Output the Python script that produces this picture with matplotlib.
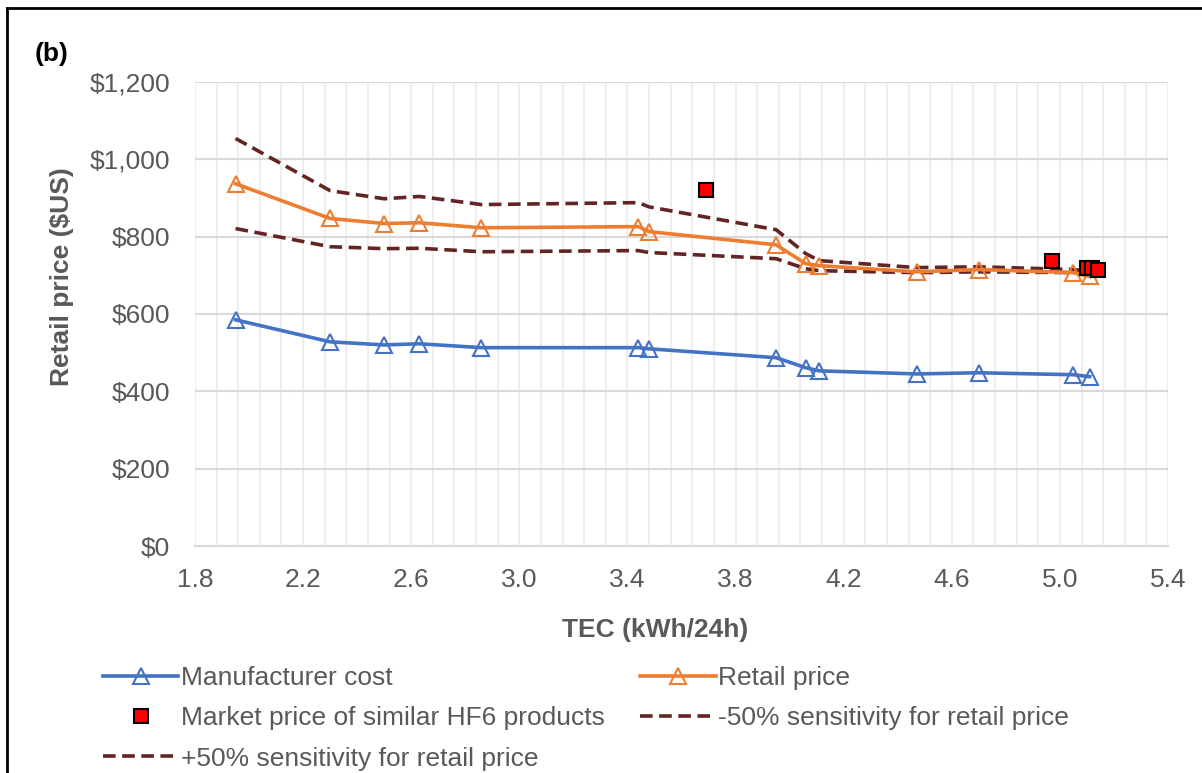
import numpy as np
import matplotlib.pyplot as plt
from matplotlib.lines import Line2D
from matplotlib.ticker import FixedLocator, FuncFormatter

plt.rcParams['font.family'] = ['Liberation Sans', 'DejaVu Sans']

# TEC (kWh/24h) of the design options
tec = [1.95, 2.30, 2.50, 2.63, 2.86, 3.44, 3.48, 3.95, 4.06, 4.11, 4.47, 4.70, 5.05, 5.11]
manufacturer_cost = [585, 528, 520, 523, 513, 513, 510, 487, 461, 453, 445, 448, 443, 438]
retail_price = [937, 847, 834, 836, 823, 826, 813, 779, 730, 725, 709, 715, 707, 697]
retail_plus50 = [1054, 919, 898, 904, 883, 888, 877, 818, 756, 738, 720, 722, 715, 710]
retail_minus50 = [821, 774, 769, 770, 761, 764, 759, 743, 717, 712, 707, 709, 707, 707]

# market price of similar HF6 products
market_tec = [3.69, 4.97, 5.10, 5.12, 5.14]
market_price = [921, 737, 720, 719, 715]

x_ticks = [1.8, 2.2, 2.6, 3.0, 3.4, 3.8, 4.2, 4.6, 5.0, 5.4]
y_ticks = [0, 200, 400, 600, 800, 1000, 1200]

grey = '#595959'
blue = '#4472C4'
orange = '#ED7D31'
maroon = '#632523'

fig = plt.figure(figsize=(12.02, 7.73), dpi=100)
ax = fig.add_axes([195/1202, 1-546/773, 973/1202, 464/773])

l1, = ax.plot(tec, manufacturer_cost, color=blue, lw=2.6, marker='^', ms=12,
              mfc='none', mec=blue, mew=1.5, zorder=4)
l2, = ax.plot(tec, retail_price, color=orange, lw=2.6, marker='^', ms=12,
              mfc='none', mec=orange, mew=1.5, zorder=4)
l4, = ax.plot(tec, retail_minus50, color=maroon, lw=2.6, ls=(0, (3.5, 1.8)), zorder=3)
l5, = ax.plot(tec, retail_plus50, color=maroon, lw=2.6, ls=(0, (3.5, 1.8)), zorder=3)
l3, = ax.plot(market_tec, market_price, ls='none', marker='s', ms=10,
              mfc='#FF0000', mec='black', mew=1.5, zorder=5)

ax.set_xlim(1.8, 5.4)
ax.set_ylim(0, 1200)
ax.xaxis.set_major_locator(FixedLocator(x_ticks))
ax.xaxis.set_minor_locator(FixedLocator(np.linspace(1.8, 5.4, 46)))
ax.yaxis.set_major_locator(FixedLocator(y_ticks))
ax.xaxis.set_major_formatter(FuncFormatter(lambda v, p: f'{v:.1f}'))
ax.yaxis.set_major_formatter(FuncFormatter(lambda v, p: f'${v:,.0f}'))

ax.grid(which='major', axis='y', color='#d9d9d9', lw=1.5)
ax.grid(which='both', axis='x', color='#eeeeee', lw=1.5)
ax.set_axisbelow(True)
for s in ['top', 'right', 'left']:
    ax.spines[s].set_visible(False)
ax.spines['bottom'].set_color('#d9d9d9')
ax.spines['bottom'].set_linewidth(1.5)
ax.tick_params(which='both', length=0)
ax.tick_params(axis='y', pad=18, labelsize=19, labelcolor=grey)
ax.tick_params(axis='x', pad=16, labelsize=19, labelcolor=grey)

fig.text(655/1202, 1-630/773, 'TEC (kWh/24h)', ha='center', va='center',
         fontsize=19, fontweight='bold', color=grey)
fig.text(62/1202, 1-277/773, 'Retail price ($US)', ha='center', va='center',
         rotation=90, fontsize=19, fontweight='bold', color=grey)
fig.text(35/1202, 1-54/773, '(b)', ha='left', va='center',
         fontsize=19, fontweight='bold', color='black')

handles = [l1, l3, l5, l2, l4]
labels = ['Manufacturer cost', 'Market price of similar HF6 products',
          '+50% sensitivity for retail price', 'Retail price',
          '-50% sensitivity for retail price']
leg = fig.legend(handles, labels, ncol=2, loc='upper left',
                 bbox_to_anchor=(103/1202, 1-666/773), frameon=False,
                 fontsize=19, handlelength=2.85, handletextpad=0.1,
                 columnspacing=1.35, labelspacing=0.62, borderpad=0,
                 borderaxespad=0)
for t in leg.get_texts():
    t.set_color(grey)

# border of the figure panel (top and left only)
fig.add_artist(Line2D([7/1202, 7/1202], [0, 1-8/773], color='black', lw=2,
                      transform=fig.transFigure))
fig.add_artist(Line2D([7/1202, 1], [1-8/773, 1-8/773], color='black', lw=2,
                      transform=fig.transFigure))

fig.savefig('out.png', dpi=100)
